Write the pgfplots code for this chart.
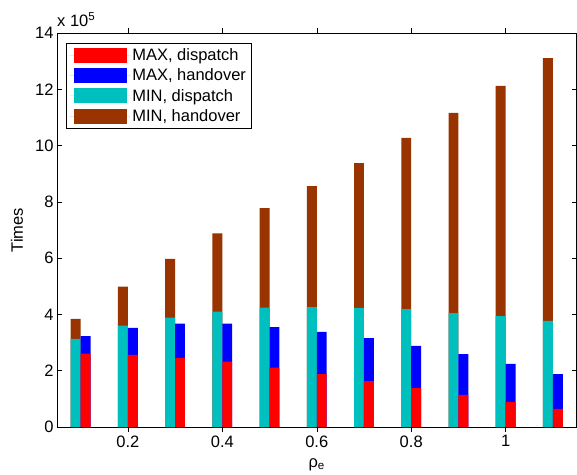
\documentclass[border=0pt]{standalone}
\usepackage{fontspec}
\setmainfont{Liberation Sans}
\usepackage{pgfplots}
\pgfplotsset{compat=1.18}
\usepackage{pgfplotstable}
\definecolor{mred}{rgb}{1,0,0}
\definecolor{mblue}{rgb}{0,0,1}
\definecolor{mcyan}{rgb}{0,0.75,0.75}
\definecolor{mbrown}{rgb}{0.6,0.2,0}

\pgfplotstableread{
x   mind mintot maxd maxtot
0.1 3.13 3.84  2.61 3.23
0.2 3.60 4.99  2.56 3.52
0.3 3.89 5.97  2.46 3.67
0.4 4.10 6.88  2.32 3.67
0.5 4.24 7.78  2.11 3.55
0.6 4.26 8.56  1.88 3.38
0.7 4.23 9.38  1.63 3.16
0.8 4.19 10.27 1.39 2.88
0.9 4.05 11.16 1.14 2.59
1.0 3.94 12.12 0.89 2.24
1.1 3.77 13.11 0.64 1.88
}\data

\newcommand{\ff}{\fontsize{16.5bp}{20bp}\selectfont}

\begin{document}
\begin{tikzpicture}
\begin{axis}[
  scale only axis, width=519.5bp, height=394bp,
  xmin=0.05, xmax=1.15, ymin=0, ymax=14,
  clip=false,
  xtick={0.2,0.4,0.6,0.8,1}, xticklabels={0.2,0.4,0.6,0.8,1},
  ytick={0,2,4,6,8,10,12,14},
  scaled ticks=false,
  tick align=inside, major tick length=5bp,
  tick style={black, line width=0.5pt},
  axis line style={black, line width=0.6pt},
  ticklabel style={font=\ff},
  /pgf/number format/assume math mode=true,
  ylabel={Times}, xlabel={ρ\textsubscript{e}},
  every axis y label/.style={at={(rel axis cs:0,0.5)}, xshift=-40bp, rotate=90, anchor=center, font=\ff},
  every axis x label/.style={at={(rel axis cs:0.5,0)}, yshift=-40bp, anchor=base, font=\ff},
  ybar, bar width=0.021,
  legend style={at={(rel axis cs:0,1)}, anchor=north west, xshift=9bp, yshift=-10bp,
    draw=black, line width=0.6pt, inner xsep=3bp, inner ysep=3bp, font=\ff,
    row sep=3bp, cells={anchor=west}},
  legend cell align=left,
  reverse legend,
  legend image code/.code={\fill[#1] (5bp,-7.5bp) rectangle (58bp,7.5bp); \path (0bp,0bp) -- (61bp,0bp);},
]
\addplot[fill=mbrown, draw=none, bar shift=-0.0105] table[x=x,y=mintot]{\data};
\addlegendentry{MIN, handover}
\addplot[fill=mcyan, draw=none, bar shift=-0.0105] table[x=x,y=mind]{\data};
\addlegendentry{MIN, dispatch}
\addplot[fill=mblue, draw=none, bar shift=0.0105] table[x=x,y=maxtot]{\data};
\addlegendentry{MAX, handover}
\addplot[fill=mred, draw=none, bar shift=0.0105] table[x=x,y=maxd]{\data};
\addlegendentry{MAX, dispatch}
\node[anchor=base west, font=\ff, inner sep=0pt] at (rel axis cs:0,1) [yshift=6bp] {x 10\textsuperscript{5}};
\coordinate (bbsw) at (rel axis cs:0,0);
\coordinate (bbne) at (rel axis cs:1,1);
\end{axis}
\pgfresetboundingbox
\path ([xshift=-57bp,yshift=-48bp]bbsw) rectangle ([xshift=0.5bp,yshift=33bp]bbne);
\end{tikzpicture}
\end{document}
